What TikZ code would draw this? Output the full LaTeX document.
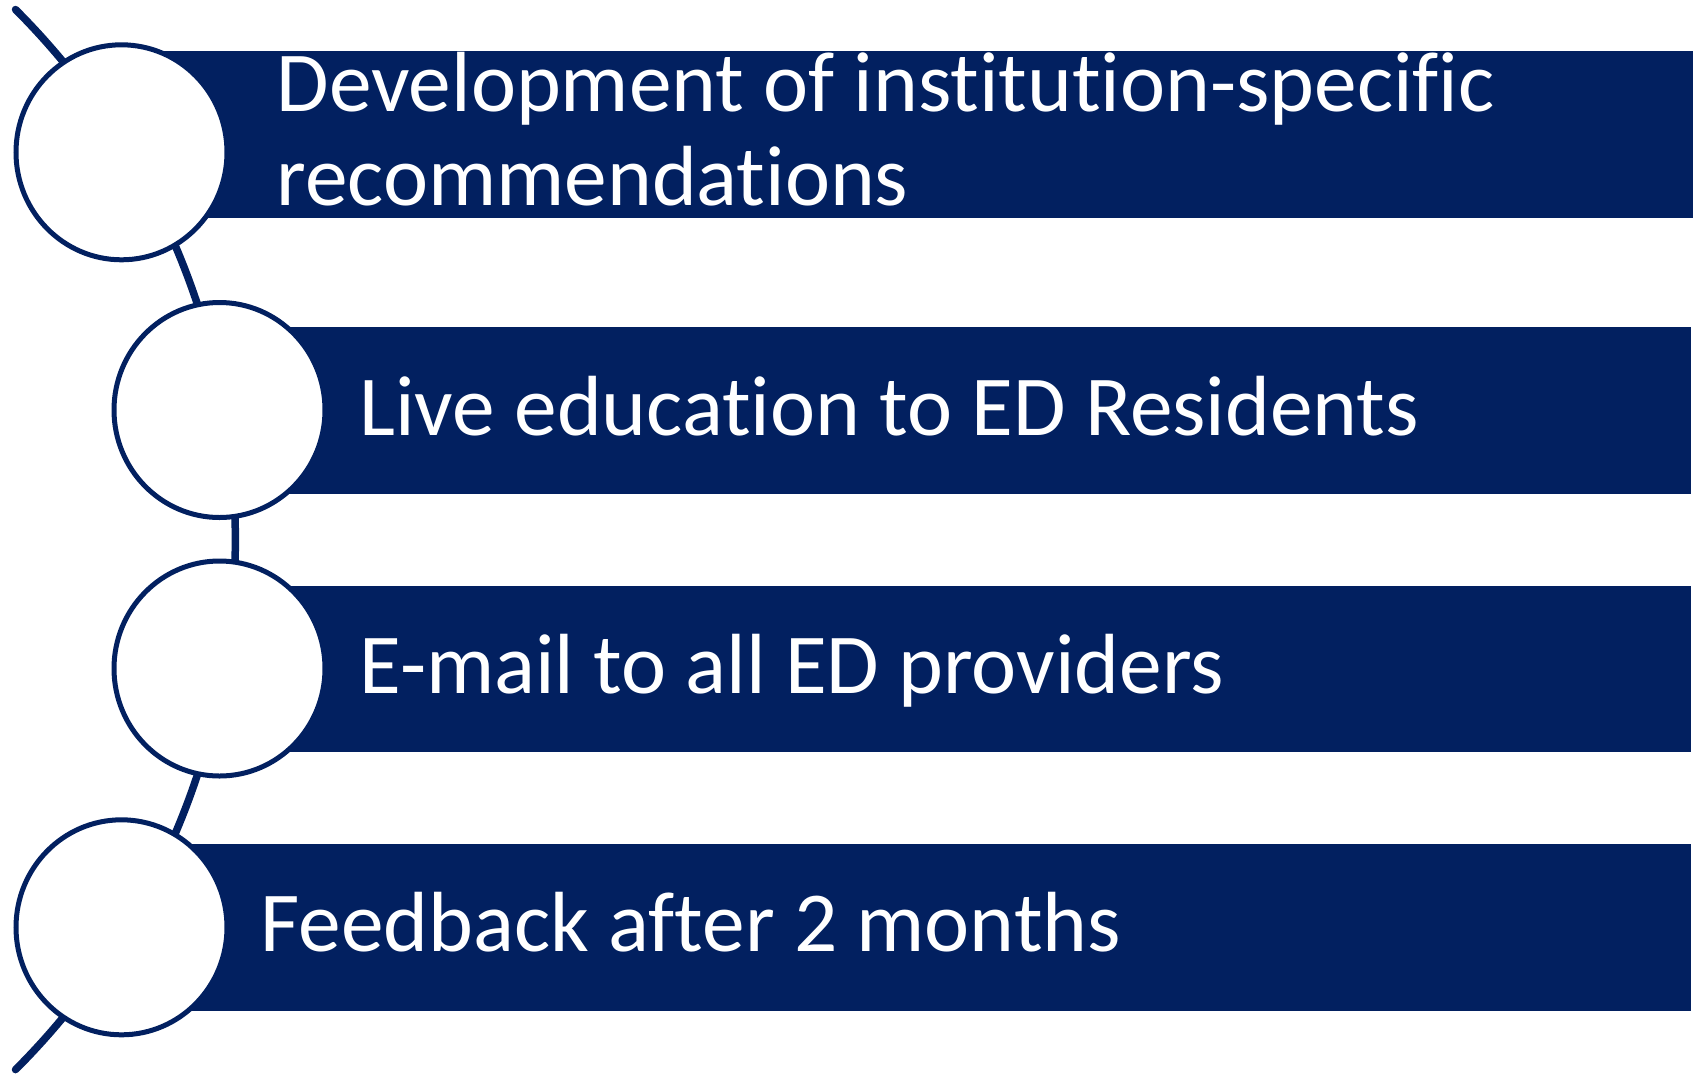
\documentclass[tikz,border=0pt]{standalone}
\usepackage{fontspec}
\setmainfont{Carlito}[Ligatures=NoCommon]
\usetikzlibrary{shapes.geometric}
\definecolor{navy}{RGB}{2,32,96}
\begin{document}
\begin{tikzpicture}[x=1pt,y=1pt,
  barfill/.style={fill=navy, draw=none, inner sep=0pt, outer sep=0pt, anchor=north west},
  ring/.style={ellipse, draw=navy, line width=5pt, fill=white,
    minimum width=211pt, minimum height=215pt, inner sep=0pt},
  captext/.style={text=white, font=\fontsize{85.4}{94}\selectfont,
    inner sep=0pt, outer sep=0pt, anchor=base west, align=left},
  spineline/.style={draw=navy, line width=7.5pt, line cap=round}]
\useasboundingbox (0,0) rectangle (1693,-1074);

% curved spine running behind the circles
\coordinate (spinetop) at (15.5,-9.5);
\draw[spineline] (spinetop) arc[start angle=45.05, end angle=-45.05, radius=749];

% step bars
\node[barfill, minimum width=1572pt,   minimum height=166.7pt] (b1) at (121,-51) {};
\node[barfill, minimum width=1471.7pt, minimum height=167pt]   (b2) at (219,-327.3) {};
\node[barfill, minimum width=1471.7pt, minimum height=166.6pt] (b3) at (219,-585.7) {};
\node[barfill, minimum width=1569.7pt, minimum height=166.7pt] (b4) at (121,-844) {};

% circles on the spine
\node[ring] (c1) at (121.5,-152.3) {};
\node[ring] (c2) at (219.5,-410) {};
\node[ring] (c3) at (219.5,-668.5) {};
\node[ring] (c4) at (121.5,-927.3) {};

% step texts (a two-line node is anchored on its last baseline)
\node[captext] (t1) at (276.5,-205) {Development of institution-specific\\recommendations};
\node[captext] (t2) at (359.5,-435) {Live education to ED Residents};
\node[captext] (t3) at (359.5,-693) {E-mail to all ED providers};
\node[captext] (t4) at (260.5,-951.7) {Feedback after 2 months};
\end{tikzpicture}
\end{document}
